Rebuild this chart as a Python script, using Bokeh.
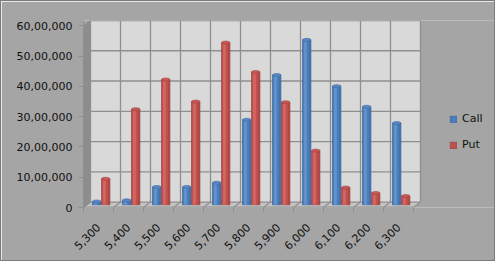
import math
from bokeh.plotting import figure
from bokeh.models import FixedTicker, Legend, LegendItem
from bokeh.embed import file_html
from bokeh.resources import INLINE

strikes = ["5,300", "5,400", "5,500", "5,600", "5,700", "5,800",
           "5,900", "6,000", "6,100", "6,200", "6,300"]
call_oi = [200000, 240000, 680000, 680000, 820000, 2900000,
           4380000, 5540000, 4010000, 3330000, 2790000]
put_oi = [950000, 3250000, 4230000, 3500000, 5450000, 4480000,
          3480000, 1880000, 660000, 480000, 380000]
y_ticks = [0, 1000000, 2000000, 3000000, 4000000, 5000000, 6000000]
y_tick_labels = ["0", "10,00,000", "20,00,000", "30,00,000",
                 "40,00,000", "50,00,000", "60,00,000"]

N = len(strikes)
DX = 0.233          # depth offset (category units)
DY = 180000         # depth offset (value units)
YMAX = y_ticks[-1]
GRID = "#8f8f8f"
BG = "#a5a5a5"
PX = 30.0           # pixels per category
RIGHT_PAD = 76      # px of room on the right for the legend

p = figure(width=495, height=261, output_backend="svg", toolbar_location=None,
           x_range=(0, N + DX + RIGHT_PAD / PX), y_range=(0, YMAX + DY),
           min_border_left=82, min_border_right=0, min_border_top=19,
           min_border_bottom=55)
p.styles = {"border": "1px solid #7a7a7a"}
p.background_fill_color = BG
p.border_fill_color = BG
p.outline_line_color = None
p.xgrid.visible = False
p.ygrid.visible = False

# left wall
p.patch([0, DX, DX, 0], [0, DY, YMAX + DY, YMAX], fill_color="#8d8d8d", line_color=None)
# floor
p.patch([0, N, N + DX, DX], [0, 0, DY, DY], fill_color="#c4c4c4", line_color=None)
# back wall
p.quad(left=[DX], right=[N + DX], bottom=[DY], top=[YMAX + DY],
       fill_color="#d9d9d9", line_color=None)

# grid lines
hx0, hx1, hy0, hy1 = [], [], [], []
for v in y_ticks:
    hx0 += [DX, 0]; hx1 += [N + DX, DX]; hy0 += [v + DY, v]; hy1 += [v + DY, v + DY]
for i in range(N + 1):
    hx0 += [DX + i, i]; hx1 += [DX + i, i + DX]; hy0 += [DY, 0]; hy1 += [YMAX + DY, DY]
p.segment(x0=hx0, y0=hy0, x1=hx1, y1=hy1, line_color=GRID, line_width=1.3)
# front floor edge
p.segment(x0=[0], y0=[0], x1=[N], y1=[0], line_color=GRID, line_width=2)

# bars (cylinders)
W = 0.28
def cyl(offset, vals, dark, base, light, cap):
    lefts = [i + offset for i in range(N)]
    rights = [l + W for l in lefts]
    bottom = DY / 2
    r = p.quad(left=lefts, right=rights, bottom=[bottom] * N, top=vals,
               fill_color=base, line_color=dark, line_width=0.7)
    p.quad(left=[l + W * 0.2 for l in lefts], right=[l + W * 0.5 for l in lefts],
           bottom=[bottom] * N, top=vals, fill_color=light, line_color=None)
    p.quad(left=[l + W * 0.78 for l in lefts], right=[l + W * 0.95 for l in lefts],
           bottom=[bottom] * N, top=vals, fill_color=dark, line_color=None, fill_alpha=0.5)
    p.ellipse(x=[l + W / 2 for l in lefts], y=vals, width=W, height=3,
              height_units="screen", fill_color=cap, line_color=dark, line_width=0.6)
    return r

rc = cyl(0.30, call_oi, "#3a66a0", "#4a7ebb", "#6793cc", "#5a89c6")
rp = cyl(0.60, put_oi, "#9e3f3c", "#c0504d", "#d26865", "#c85a57")

# axes
ya = p.yaxis[0]
ya.ticker = FixedTicker(ticks=y_ticks)
ya.major_label_overrides = {v: s for v, s in zip(y_ticks, y_tick_labels)}
xa = p.xaxis[0]
centers = [i + 0.5 for i in range(N)]
xa.ticker = FixedTicker(ticks=centers, minor_ticks=list(range(N + 1)))
xa.major_label_overrides = {c: s for c, s in zip(centers, strikes)}
xa.major_label_orientation = math.pi / 4
xa.major_tick_out = 0
xa.major_tick_in = 0
xa.minor_tick_out = 5
xa.minor_tick_in = 0
xa.axis_line_color = None
ya.axis_line_color = GRID
ya.major_tick_out = 5
ya.major_tick_in = 0
for ax in (xa, ya):
    ax.major_tick_line_color = GRID
    ax.major_label_text_font = "DejaVu Sans"
    ax.major_label_text_font_size = "11px"
    ax.major_label_text_color = "#111111"
xa.minor_tick_line_color = GRID
ya.minor_tick_line_color = None
ya.major_label_standoff = 6
xa.major_label_standoff = 13

legend = Legend(items=[LegendItem(label="Call", renderers=[rc]),
                       LegendItem(label="Put", renderers=[rp])],
                location=(366, 56))
legend.padding = 0
legend.margin = 0
legend.spacing = 13
legend.glyph_width = 8
legend.glyph_height = 8
legend.label_standoff = 5
legend.background_fill_alpha = 0
legend.border_line_alpha = 0
legend.label_text_font = "DejaVu Sans"
legend.label_text_font_size = "11px"
legend.label_text_color = "#111111"
p.add_layout(legend, "center")

open("out.html", "w").write(file_html(p, INLINE))
